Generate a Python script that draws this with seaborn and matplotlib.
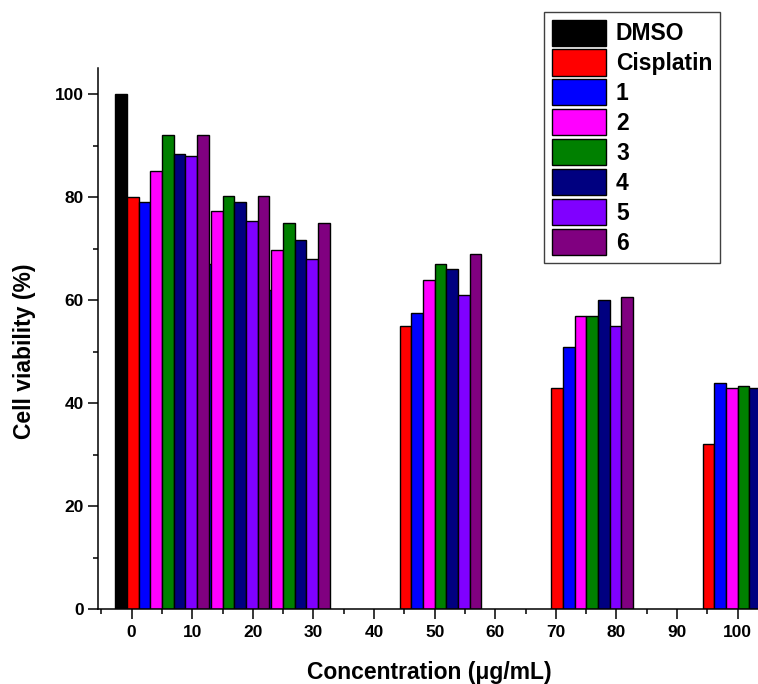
import numpy as np
import pandas as pd
import matplotlib
matplotlib.use("Agg")
import matplotlib.pyplot as plt
from matplotlib.patches import Patch
from matplotlib.ticker import MultipleLocator
import seaborn as sns

# ---------------- data ----------------
concentrations = [5, 15, 25, 50, 75, 100]
series_names = ["DMSO", "Cisplatin", "1", "2", "3", "4", "5", "6"]
dmso      = [100,  None, None, None, None, None]
cisplatin = [80,   None, None, 55,   43,   32]
cmpd1     = [79,   67,   62,   57.5, 51,   44]
cmpd2     = [85,   77.3, 69.7, 64,   57,   43]
cmpd3     = [92,   80.3, 75,   67,   57,   43.3]
cmpd4     = [88.3, 79,   71.6, 66,   60,   43]
cmpd5     = [88,   75.3, 68,   61,   55,   None]
cmpd6     = [92,   80.3, 75,   69,   60.6, None]
x_ticks = [0, 10, 20, 30, 40, 50, 60, 70, 80, 90, 100]
y_ticks = [0, 20, 40, 60, 80, 100]

colors = ["#000000", "#FF0000", "#0000FF", "#FF00FF", "#008000",
          "#000080", "#8000FF", "#800080"]

values = [dmso, cisplatin, cmpd1, cmpd2, cmpd3, cmpd4, cmpd5, cmpd6]
rows = []
for name, vals in zip(series_names, values):
    for c, v in zip(concentrations, vals):
        if v is not None:
            rows.append({"conc": c, "viability": v, "sample": name})
df = pd.DataFrame(rows)
palette = dict(zip(series_names, colors))

# ---------------- style ----------------
sns.set_style("ticks")
plt.rcParams["font.family"] = ["Liberation Sans", "DejaVu Sans"]
plt.rcParams["font.weight"] = "bold"
plt.rcParams["text.color"] = "black"
plt.rcParams["axes.labelcolor"] = "black"
plt.rcParams["xtick.color"] = "black"
plt.rcParams["ytick.color"] = "black"
plt.rcParams["axes.edgecolor"] = "black"

fig = plt.figure(figsize=(7.58, 6.84), dpi=100)
ax = fig.add_axes([98.3 / 758, 1 - 609.3 / 684, 659.7 / 758, 541.0 / 684])

sns.barplot(data=df, x="conc", y="viability", hue="sample",
            hue_order=series_names, palette=palette, native_scale=True,
            width=1.54, dodge=True, edgecolor="black", linewidth=1.0,
            errorbar=None, legend=False, saturation=1, ax=ax)

ax.set_xlim(-5.5, 103.35)
ax.set_ylim(0, 105)
ax.set_xticks(x_ticks)
ax.set_xticklabels([str(t) for t in x_ticks])
ax.set_yticks(y_ticks)
ax.set_yticklabels([str(t) for t in y_ticks])
ax.xaxis.set_minor_locator(MultipleLocator(5))
ax.yaxis.set_minor_locator(MultipleLocator(10))
ax.tick_params(axis="both", which="major", length=7, width=1.1,
               labelsize=12.5, direction="out", color="black",
               labelcolor="black")
ax.tick_params(axis="both", which="minor", length=3.8, width=1.1,
               direction="out", color="black")
ax.tick_params(axis="x", which="major", pad=4.5)
ax.tick_params(axis="y", which="major", pad=3.5)
for lab in ax.get_xticklabels() + ax.get_yticklabels():
    lab.set_fontweight("bold")

for s in ["top", "right"]:
    ax.spines[s].set_visible(False)
for s in ["left", "bottom"]:
    ax.spines[s].set_linewidth(1.1)
    ax.spines[s].set_color("black")

ax.set_xlabel("")
ax.set_ylabel("")
fig.text(24.5 / 758, 1 - 351 / 684, "Cell viability (%)", rotation=90,
         ha="center", va="center", fontsize=16.5, fontweight="bold",
         color="black")
fig.text(429 / 758, 1 - 679 / 684, "Concentration (μg/mL)",
         ha="center", va="baseline", fontsize=16.5, fontweight="bold",
         color="black")

handles = [Patch(facecolor=c, edgecolor="black", linewidth=1.0) for c in colors]
leg = ax.legend(handles, series_names, loc="upper left",
                bbox_to_anchor=(544 / 758, 1 - 12 / 684),
                bbox_transform=fig.transFigure, borderaxespad=0,
                prop={"family": "Liberation Sans", "weight": "bold", "size": 16.5},
                handlelength=2.36, handleheight=1.37, labelspacing=0.17,
                handletextpad=0.45, borderpad=0.33, fancybox=False,
                framealpha=1, edgecolor="#404040")
leg.get_frame().set_linewidth(1.0)
for t in leg.get_texts():
    t.set_color("black")

fig.savefig("out.png", dpi=100)
